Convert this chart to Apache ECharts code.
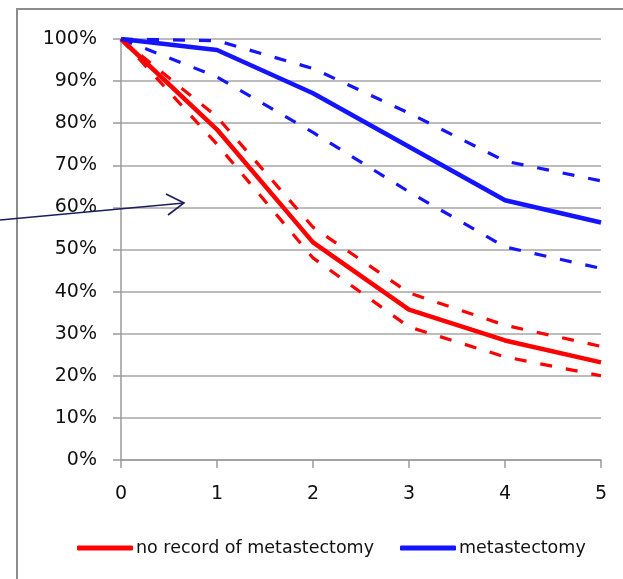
<!DOCTYPE html>
<html>
<head>
<meta charset="utf-8">
<script src="https://cdn.jsdelivr.net/npm/echarts@6/dist/echarts.min.js"></script>
<style>
html,body{margin:0;padding:0;background:#fff;}
#chart{width:623px;height:579px;}
</style>
</head>
<body>
<div id="chart"></div>
<script>
var years = [0, 1, 2, 3, 4, 5];
var yTicks = [0, 10, 20, 30, 40, 50, 60, 70, 80, 90, 100];
var noRecord = [100, 78.5, 51.7, 35.7, 28.4, 23.2];
var noRecordUpper = [100, 81.5, 55.3, 39.7, 32.0, 27.0];
var noRecordLower = [100, 75.0, 48.0, 31.6, 24.5, 20.0];
var metast = [100, 97.4, 87.1, 74.4, 61.7, 56.4];
var metastUpper = [100, 99.6, 93.0, 82.4, 71.0, 66.3];
var metastLower = [100, 91.0, 77.8, 63.7, 50.6, 45.5];
var legendNames = ['no record of metastectomy', 'metastectomy'];

function pairs(vals) { return years.map(function (x, i) { return [x, vals[i]]; }); }

var RED = '#ff0000', BLUE = '#1414ff';
var FONT = 'DejaVu Sans';

function solid(name, vals, color) {
  return { name: name, type: 'line', data: pairs(vals), symbol: 'none', silent: true,
    lineStyle: { color: color, width: 4.5 }, itemStyle: { color: color }, z: 3 };
}
function dashed(name, vals, color) {
  return { name: name, type: 'line', data: pairs(vals), symbol: 'none', silent: true,
    lineStyle: { color: color, width: 3.2, type: [12, 14] }, itemStyle: { color: color }, z: 2 };
}

var chart = echarts.init(document.getElementById('chart'), null, { renderer: 'canvas' });
chart.setOption({
  animation: false,
  backgroundColor: '#fff',
  grid: { left: 121, right: 22, top: 39, bottom: 119, containLabel: false },
  xAxis: {
    type: 'value', min: 0, max: 5, interval: 1,
    axisLine: { show: true, lineStyle: { color: '#9a9a9a', width: 1.5 } },
    axisTick: { show: true, length: 8, lineStyle: { color: '#9a9a9a', width: 1.5 } },
    splitLine: { show: false },
    axisLabel: { margin: 25, color: '#111', fontFamily: FONT, fontSize: 19 }
  },
  yAxis: {
    type: 'value', min: 0, max: 100, interval: 10,
    axisLine: { show: true, lineStyle: { color: '#9a9a9a', width: 1.5 } },
    axisTick: { show: true, length: 8, lineStyle: { color: '#9a9a9a', width: 1.5 } },
    splitLine: { show: true, lineStyle: { color: '#a6a6a6', width: 1.5 } },
    axisLabel: { margin: 24, color: '#111', fontFamily: FONT, fontSize: 19,
      formatter: function (v) { return yTicks.indexOf(v) >= 0 ? v + '%' : ''; } }
  },
  legend: {
    data: legendNames, bottom: 17, left: 72, itemGap: 26, itemWidth: 56, itemHeight: 5,
    icon: 'roundRect', selectedMode: false,
    textStyle: { fontFamily: FONT, fontSize: 17.5, color: '#111', padding: [0, 0, 0, -2] }
  },
  series: [
    dashed('no record upper', noRecordUpper, RED),
    dashed('no record lower', noRecordLower, RED),
    dashed('metastectomy upper', metastUpper, BLUE),
    dashed('metastectomy lower', metastLower, BLUE),
    solid(legendNames[0], noRecord, RED),
    solid(legendNames[1], metast, BLUE)
  ],
  graphic: [
    { type: 'rect', shape: { x: 17, y: 9, width: 700, height: 700 }, silent: true,
      style: { fill: 'none', stroke: '#8c8c8c', lineWidth: 2 }, z: 0 },
    { type: 'polyline', shape: { points: [[0, 220], [184, 203]] }, silent: true,
      style: { stroke: '#1c1c60', lineWidth: 1.6, fill: 'none' }, z: 10 },
    { type: 'polyline', shape: { points: [[166, 194], [184, 203], [168, 215]] }, silent: true,
      style: { stroke: '#1c1c60', lineWidth: 1.6, fill: 'none' }, z: 10 }
  ]
});
</script>
</body>
</html>
